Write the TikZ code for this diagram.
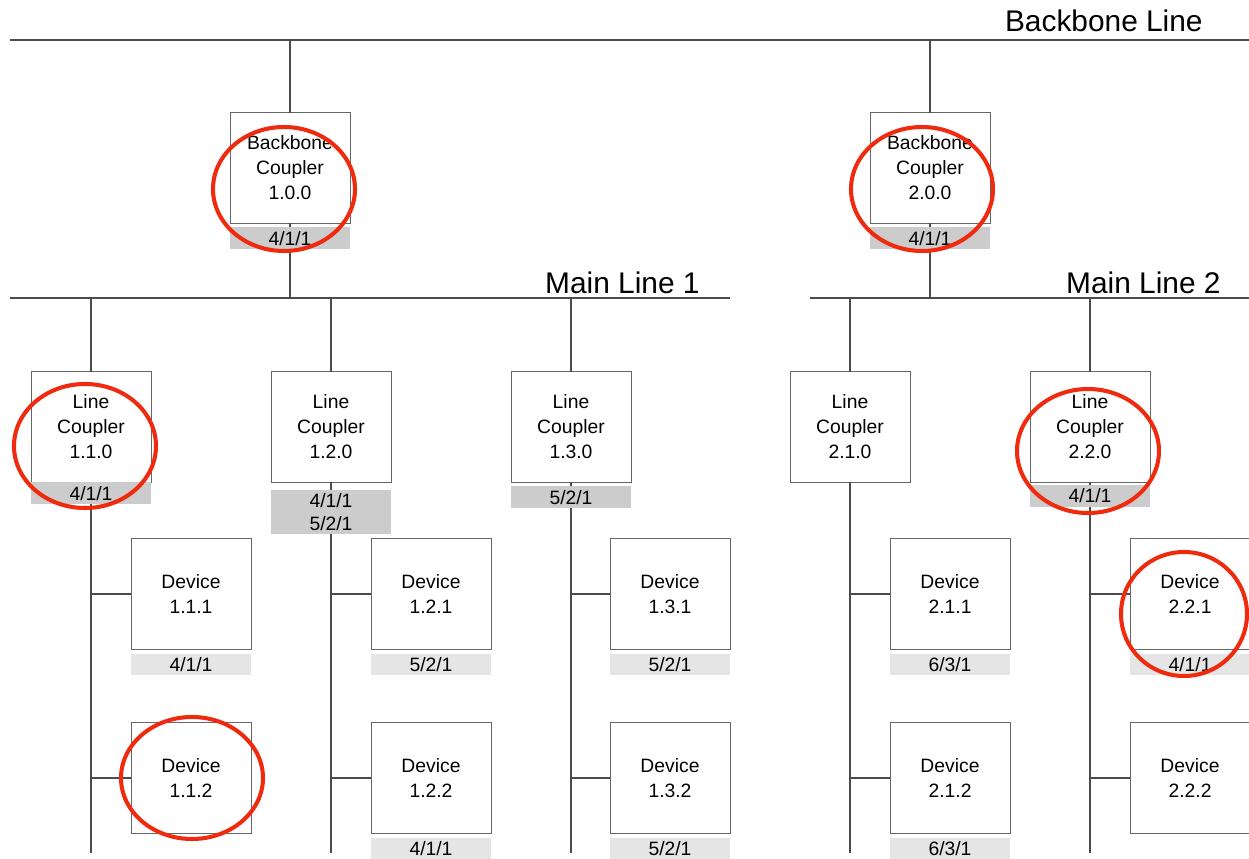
\documentclass[tikz,border=0pt]{standalone}
\usepackage{fontspec}
\setmainfont{Liberation Sans}
\usetikzlibrary{positioning}

\definecolor{ringred}{RGB}{240,42,14}

\begin{document}
\begin{tikzpicture}[
  x=0.02cm, y=-0.02cm,
  box/.style={draw=black!60, align=center, minimum width=2.4cm,
              minimum height=2.22cm, inner sep=0pt, outer sep=0pt,
              font=\fontsize{11}{14.2}\selectfont},
  tag/.style={fill=black!20, align=center, minimum width=2.4cm,
              minimum height=0.44cm, inner sep=0pt, outer sep=0pt,
              font=\fontsize{11}{13}\selectfont},
  devtag/.style={tag, fill=black!10, minimum height=0.42cm},
  bus/.style={anchor=base east, inner sep=0pt, font=\fontsize{17}{20}\selectfont},
  wire/.style={draw=black!70, line width=0.6pt},
  hilite/.style={draw=ringred, line width=2.3pt},
]
\useasboundingbox (0,0) rectangle (1249,859);

% bus lines
\coordinate (bbl) at (10,40);
\coordinate (bbr) at (1249,40);
\coordinate (ml1l) at (10,298);
\coordinate (ml1r) at (730,298);
\coordinate (ml2l) at (810,298);
\coordinate (ml2r) at (1249,298);
\coordinate (bot) at (0,853);
\node[bus] (bbname) at (1203,31) {Backbone Line};
\node[bus] (ml1name) at (700,293) {Main Line 1};
\node[bus] (ml2name) at (1221,293) {Main Line 2};

% backbone couplers
\node[box] (bc100) at (290,168) {Backbone\\Coupler\\1.0.0};
\node[tag, below=0.08cm of bc100, minimum height=0.44cm] (t100) {4/1/1};
\node[box] (bc200) at (930,168) {Backbone\\Coupler\\2.0.0};
\node[tag, below=0.08cm of bc200] (t200) {4/1/1};

% line couplers
\node[box] (lc110) at (91,427) {Line\\Coupler\\1.1.0};
\node[tag, below=0pt of lc110] (t110) {4/1/1};
\node[box] (lc120) at (331,427) {Line\\Coupler\\1.2.0};
\node[tag, below=0.16cm of lc120, minimum height=0.88cm] (t120) {4/1/1\\5/2/1};
\node[box] (lc130) at (571,427) {Line\\Coupler\\1.3.0};
\node[tag, below=0.08cm of lc130] (t130) {5/2/1};
\node[box] (lc210) at (850,427) {Line\\Coupler\\2.1.0};
\node[box] (lc220) at (1090,427) {Line\\Coupler\\2.2.0};
\node[tag, below=0.05cm of lc220] (t220) {4/1/1};

% devices
\node[box] (d111) at (191,594) {Device\\1.1.1};
\node[devtag, below=0.1cm of d111] (t111) {4/1/1};
\node[box] (d112) at (191,778) {Device\\1.1.2};
\node[box] (d121) at (431,594) {Device\\1.2.1};
\node[devtag, below=0.1cm of d121] (t121) {5/2/1};
\node[box] (d122) at (431,778) {Device\\1.2.2};
\node[devtag, below=0.1cm of d122] (t122) {4/1/1};
\node[box] (d131) at (670,594) {Device\\1.3.1};
\node[devtag, below=0.1cm of d131] (t131) {5/2/1};
\node[box] (d132) at (670,778) {Device\\1.3.2};
\node[devtag, below=0.1cm of d132] (t132) {5/2/1};
\node[box] (d211) at (950,594) {Device\\2.1.1};
\node[devtag, below=0.1cm of d211] (t211) {6/3/1};
\node[box] (d212) at (950,778) {Device\\2.1.2};
\node[devtag, below=0.1cm of d212] (t212) {6/3/1};
\node[box] (d221) at (1190,594) {Device\\2.2.1};
\node[devtag, below=0.1cm of d221] (t221) {4/1/1};
\node[box] (d222) at (1190,778) {Device\\2.2.2};

% wiring
\draw[wire] (bbl) -- (bbr);
\draw[wire] (ml1l) -- (ml1r);
\draw[wire] (ml2l) -- (ml2r);
\draw[wire] (bc100.north) -- (bc100.north |- bbl);
\draw[wire] (bc100.south) -- (t100.north);
\draw[wire] (t100.south) -- (t100.south |- ml1l);
\draw[wire] (bc200.north) -- (bc200.north |- bbl);
\draw[wire] (bc200.south) -- (t200.north);
\draw[wire] (t200.south) -- (t200.south |- ml2l);

\draw[wire] (lc110.north) -- (lc110.north |- ml1l);
\draw[wire] (t110.south) -- (t110.south |- bot);
\draw[wire] (lc120.north) -- (lc120.north |- ml1l);
\draw[wire] (lc120.south) -- (t120.north);
\draw[wire] (t120.south) -- (t120.south |- bot);
\draw[wire] (lc130.north) -- (lc130.north |- ml1l);
\draw[wire] (lc130.south) -- (t130.north);
\draw[wire] (t130.south) -- (t130.south |- bot);
\draw[wire] (lc210.north) -- (lc210.north |- ml2l);
\draw[wire] (lc210.south) -- (lc210.south |- bot);
\draw[wire] (lc220.north) -- (lc220.north |- ml2l);
\draw[wire] (lc220.south) -- (t220.north);
\draw[wire] (t220.south) -- (t220.south |- bot);

\foreach \d/\l in {d111/lc110, d112/lc110, d121/lc120, d122/lc120,
                   d131/lc130, d132/lc130, d211/lc210, d212/lc210,
                   d221/lc220, d222/lc220}
  \draw[wire] (\d.west) -- (\d.west -| \l.south);

% highlights
\draw[hilite] (284,189) ellipse [x radius=71, y radius=62];
\draw[hilite] (922,189) ellipse [x radius=71, y radius=62];
\draw[hilite] (85,446) ellipse [x radius=71, y radius=62];
\draw[hilite] (1088,451) ellipse [x radius=71, y radius=62];
\draw[hilite] (1184,614) ellipse [x radius=63, y radius=62];
\draw[hilite] (192,778) ellipse [x radius=71, y radius=61];
\end{tikzpicture}
\end{document}
